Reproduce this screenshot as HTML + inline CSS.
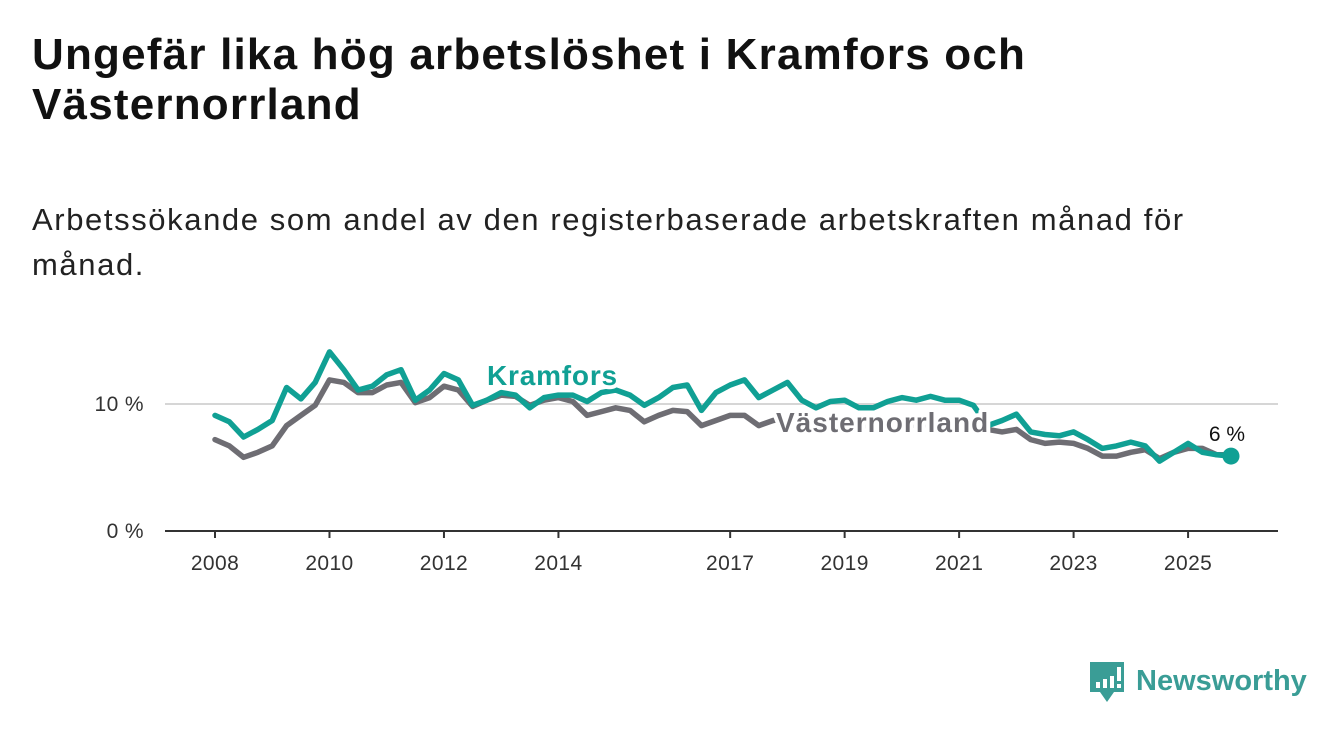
<!DOCTYPE html>
<html><head><meta charset="utf-8">
<style>
html,body{margin:0;padding:0;background:#fff;width:1340px;height:734px;overflow:hidden;font-family:"Liberation Sans","DejaVu Sans",sans-serif;}
h1{position:absolute;left:32px;top:30px;margin:0;font-size:44px;line-height:50px;font-weight:bold;color:#111;width:1060px;letter-spacing:1.2px;}
.sub{position:absolute;left:32px;top:197px;margin:0;font-size:31px;line-height:45px;color:#222;width:1200px;letter-spacing:1.6px;}
svg{position:absolute;left:0;top:0;}
</style></head><body>
<h1>Ungefär lika hög arbetslöshet i Kramfors och Västernorrland</h1>
<p class="sub">Arbetssökande som andel av den registerbaserade arbetskraften månad för månad.</p>
<svg id="chart" width="1340" height="734"></svg>
<script>
const years = [2008,2010,2012,2014,2017,2019,2021,2023,2025];
const yTicks = [0,10];
const startYear = 2008;
const kramfors = [9.1,8.6,7.4,8.0,8.7,11.3,10.4,11.7,14.1,12.7,11.1,11.4,12.3,12.7,10.3,11.1,12.4,11.9,9.9,10.3,10.9,10.7,9.7,10.5,10.7,10.7,10.2,10.9,11.1,10.7,9.9,10.5,11.3,11.5,9.5,10.9,11.5,11.9,10.5,11.1,11.7,10.3,9.7,10.2,10.3,9.7,9.7,10.2,10.5,10.3,10.6,10.3,10.3,9.9,8.3,8.7,9.2,7.8,7.6,7.5,7.8,7.2,6.5,6.7,7.0,6.7,5.5,6.2,6.9,6.2,6.0,5.9];
const vasternorrland = [7.2,6.7,5.8,6.2,6.7,8.3,9.1,9.9,11.9,11.7,10.9,10.9,11.5,11.7,10.1,10.5,11.4,11.1,9.8,10.3,10.7,10.6,9.9,10.3,10.5,10.2,9.1,9.4,9.7,9.5,8.6,9.1,9.5,9.4,8.3,8.7,9.1,9.1,8.3,8.7,8.9,8.6,8.5,8.4,8.5,8.3,8.3,8.4,8.5,8.3,8.4,8.2,8.3,8.2,8.0,7.8,8.0,7.2,6.9,7.0,6.9,6.5,5.9,5.9,6.2,6.4,5.7,6.2,6.5,6.5,6.0,6.0];
const NS='http://www.w3.org/2000/svg';
const svg=document.getElementById('chart');
const x0=215, pxPerYear=57.24, y0=531, pxPerPct=12.7;
const xs=t=>x0+(t-startYear)*pxPerYear;
const ys=v=>y0-v*pxPerPct;
function el(tag,attrs,text){const e=document.createElementNS(NS,tag);for(const k in attrs)e.setAttribute(k,attrs[k]);if(text!==undefined)e.textContent=text;svg.appendChild(e);return e;}
yTicks.forEach(v=>{
  if(v>0){const g=el('line',{x1:165,x2:1278,y1:ys(v),y2:ys(v),stroke:'#d6d6d6','stroke-width':2});
  
  }
  const t=el('text',{x:144,y:ys(v)+7,'text-anchor':'end','font-size':21,fill:'#333','letter-spacing':0.4},v+' %');
  
  
});
const ax=el('line',{x1:165,x2:1278,y1:y0,y2:y0,stroke:'#333','stroke-width':2});


years.forEach(yr=>{
  const tk=el('line',{x1:xs(yr),x2:xs(yr),y1:y0,y2:y0+7,stroke:'#333','stroke-width':2});
  
  
  const t=el('text',{x:xs(yr),y:570,'text-anchor':'middle','font-size':21,fill:'#333','letter-spacing':0.4},yr);
  
  
});
function pts(arr){return arr.map((v,i)=>xs(startYear+i/4).toFixed(1)+','+ys(v).toFixed(1)).join(' ');}
const lv=el('polyline',{points:pts(vasternorrland),fill:'none',stroke:'#6e6d73','stroke-width':5.5,'stroke-linejoin':'round','stroke-linecap':'round'});


const lk=el('polyline',{points:pts(kramfors),fill:'none',stroke:'#10a094','stroke-width':5.5,'stroke-linejoin':'round','stroke-linecap':'round'});


const last=kramfors.length-1;
const dot=el('circle',{cx:xs(startYear+last/4),cy:ys(kramfors[last]),r:8.5,fill:'#10a094'});


const halo={stroke:'#fff','stroke-width':8,'paint-order':'stroke','stroke-linejoin':'round'};
const lbK=el('text',Object.assign({x:487,y:385,'font-size':28,'font-weight':'bold',fill:'#10a094','letter-spacing':0.8},halo),'Kramfors');


const lbV=el('text',Object.assign({x:776,y:432,'font-size':28,'font-weight':'bold',fill:'#6e6d73','letter-spacing':1.0},halo),'Västernorrland');


const lbE=el('text',Object.assign({x:1227,y:441,'font-size':21,'text-anchor':'middle',fill:'#111'},halo),Math.round(kramfors[last])+' %');


</script>
<svg width="1340" height="734">
  <path d="M1090 662 h34 v30 h-10 l-7 10 l-7 -10 h-10 z" fill="#3a9d96"/>
  <rect x="1096" y="682" width="4" height="6" fill="#fff"/>
  <rect x="1103" y="679" width="4" height="9" fill="#fff"/>
  <rect x="1110" y="676" width="4" height="12" fill="#fff"/>
  <rect x="1117" y="667" width="4" height="14" fill="#fff"/>
  <rect x="1117" y="684" width="4" height="4" fill="#fff"/>
  <text x="1136" y="690" font-size="29" font-weight="bold" fill="#3a9d96" font-family="Liberation Sans, sans-serif">Newsworthy</text>
</svg>
</body></html>
